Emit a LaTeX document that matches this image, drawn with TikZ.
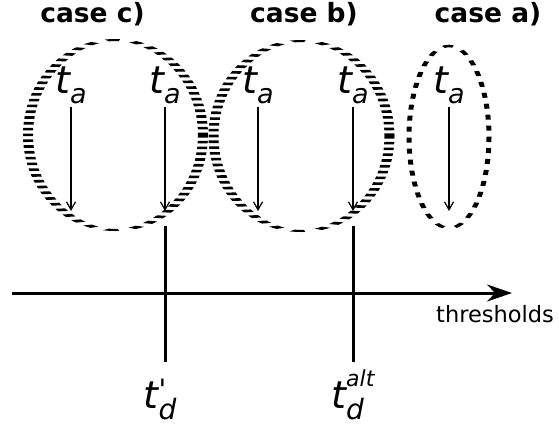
\documentclass[tikz,border=0pt]{standalone}
\usepackage{fontspec}
\setmainfont{DejaVu Sans}
\newfontfamily\plainfont{DejaVu Sans}
\usetikzlibrary{arrows.meta,positioning}

\newcommand{\bigt}{{\fontsize{38}{38}\selectfont\itshape t}}
\newcommand{\lowsub}[1]{\raisebox{-10pt}{\fontsize{27}{27}\selectfont\itshape #1}}
\newcommand{\lowsubd}[1]{\raisebox{-11pt}{\fontsize{28}{28}\selectfont\itshape #1}}
\newcommand{\highsup}[1]{\raisebox{22pt}{\fontsize{22}{22}\selectfont\itshape #1}}

\begin{document}
\begin{tikzpicture}[x=1pt,y=-1pt,
  title/.style={font=\fontsize{26.5}{26.5}\selectfont\bfseries,anchor=base},
  tlabel/.style={inner sep=3pt,anchor=base},
  dlabel/.style={inner sep=0pt,anchor=base},
  ring/.style={line width=2pt,dash pattern=on 2.6pt off 3.2pt},
  oval/.style={line width=2.5pt,dash pattern=on 5pt off 6pt},
  drop/.style={-{Straight Barb[length=8pt,width=9pt]},line width=1.2pt},
  bar/.style={line width=3pt},
  axis/.style={-{Stealth[length=25pt,width=17pt]},line width=3pt}]
  \useasboundingbox (0,0) rectangle (559,426);

  % titles
  \node[title] (capc) at (92.5,22) {case c)};
  \node[title] (capb) at (304,22) {case b)};
  \node[title] (capa) at (488,22) {case a)};

  % dashed rings
  \begin{scope}[transform canvas={shift={(115.5,135)},xscale=5}]
    \draw[ring] (0,0) ellipse [x radius=17.5, y radius=95];
  \end{scope}
  \begin{scope}[transform canvas={shift={(301.5,136)},xscale=5}]
    \draw[ring] (0,0) ellipse [x radius=17.6, y radius=95];
  \end{scope}
  \begin{scope}[transform canvas={shift={(449,137)},xscale=2}]
    \draw[oval] (0,0) ellipse [x radius=20, y radius=91];
  \end{scope}

  % t_a labels and their drops
  \foreach \x/\n in {71/1,165/2,258/3,353/4,449/5} {
    \node[tlabel] (ta\n) at (\x,93) {\bigt\lowsub{a}};
    \coordinate (e\n) at (\x,211);
    \draw[drop] (ta\n) -- (e\n);
  }

  % threshold lines
  \coordinate (v1top) at (165,226);
  \coordinate (v1bot) at (165,362);
  \coordinate (v2top) at (353,226);
  \coordinate (v2bot) at (353,362);
  \draw[bar] (v1top) -- (v1bot);
  \draw[bar] (v2top) -- (v2bot);

  % axis
  \coordinate (ax0) at (12,293);
  \coordinate (ax1) at (512,293);
  \draw[axis] (ax0) -- (ax1);
  \node[anchor=base west,inner sep=0pt,font=\fontsize{22.5}{22.5}\selectfont] (thr) at (436,322) {thresholds};

  % lower labels
  \node[dlabel] (tdp) at (160,408) {\bigt\rlap{\raisebox{9pt}{\fontsize{28}{28}\selectfont\plainfont\itshape '}}\lowsubd{d}};
  \node[dlabel] (tdalt) at (355,408) {\bigt\rlap{\highsup{alt}}\lowsubd{d}\hphantom{\fontsize{22}{22}\selectfont lt}};
\end{tikzpicture}
\end{document}
